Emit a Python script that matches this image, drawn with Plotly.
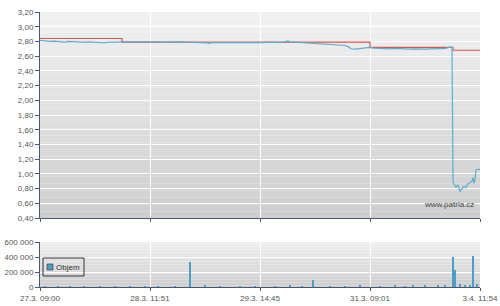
import plotly.graph_objects as go

# ---- data ----
tick_pos = [0, 110, 220, 330, 440]
tick_labels = ["27.3. 09:00", "28.3. 11:51", "29.3. 14:45", "31.3. 09:01", "3.4. 11:54"]

ref_x = [0, 82, 82, 330, 330, 413, 413, 440]
ref_y = [2.84, 2.84, 2.79, 2.79, 2.72, 2.72, 2.68, 2.68]

price_x = [0, 3, 6, 10, 14, 18, 22, 25, 28, 32, 36, 40, 44, 48, 52, 56, 60, 64, 68, 72, 76, 80, 82,
           84, 88, 92, 96, 100, 105, 110, 115, 120, 125, 130, 135, 140, 145, 150, 155, 160, 165, 168, 169, 171,
           175, 180, 185, 190, 195, 200, 205, 210, 215, 220, 225, 230, 235, 240, 245, 247, 248, 250, 255,
           260, 265, 270, 275, 280, 285, 290, 295, 300, 305, 308, 311, 315, 318, 322, 326, 330,
           334, 338, 342, 346, 350, 354, 358, 362, 366, 370, 374, 378, 382, 386, 390, 394, 398, 402, 406, 409, 411, 412,
           413, 414, 416, 418, 419, 420, 422, 424, 426, 428, 430, 432, 433, 434, 435, 436, 438, 440]
price_y = [2.815, 2.81, 2.805, 2.80, 2.805, 2.80, 2.795, 2.79, 2.80, 2.795, 2.80, 2.795, 2.79, 2.795, 2.79, 2.795, 2.79, 2.785, 2.79, 2.785, 2.79, 2.795, 2.795,
           2.805, 2.80, 2.80, 2.795, 2.80, 2.80, 2.795, 2.80, 2.795, 2.79, 2.795, 2.79, 2.795, 2.79, 2.79, 2.785, 2.79, 2.785, 2.78, 2.77, 2.785,
           2.785, 2.79, 2.785, 2.785, 2.79, 2.785, 2.785, 2.79, 2.785, 2.785, 2.79, 2.785, 2.79, 2.785, 2.79, 2.80, 2.81, 2.79, 2.79,
           2.785, 2.785, 2.78, 2.775, 2.77, 2.765, 2.76, 2.755, 2.75, 2.745, 2.73, 2.70, 2.695, 2.70, 2.71, 2.715, 2.72,
           2.71, 2.705, 2.71, 2.705, 2.70, 2.705, 2.70, 2.705, 2.70, 2.695, 2.70, 2.695, 2.70, 2.695, 2.70, 2.70, 2.705, 2.70, 2.705, 2.72, 2.725, 2.715,
           0.89, 0.86, 0.82, 0.85, 0.78, 0.76, 0.80, 0.83, 0.81, 0.87, 0.88, 0.90, 0.95, 0.87, 0.93, 1.05, 1.06, 1.06]

vol_x = [5, 18, 30, 44, 60, 75, 90, 105, 118, 135, 150, 165, 180, 200, 215, 235, 250, 262, 273, 290, 305,
         320, 340, 355, 365, 373, 385, 398, 405, 413, 415, 420, 425, 430, 433, 437]
vol_y = [6000, 4000, 8000, 5000, 9000, 6000, 12000, 7000, 10000, 8000, 340000, 15000, 9000, 12000, 8000, 10000, 14000, 9000, 95000, 10000, 12000,
         15000, 10000, 18000, 12000, 30000, 16000, 14000, 20000, 400000, 230000, 40000, 25000, 30000, 420000, 35000]

price_ticks = [0.4, 0.6, 0.8, 1.0, 1.2, 1.4, 1.6, 1.8, 2.0, 2.2, 2.4, 2.6, 2.8, 3.0, 3.2]
price_tick_text = ["0,40", "0,60", "0,80", "1,00", "1,20", "1,40", "1,60", "1,80", "2,00", "2,20", "2,40", "2,60", "2,80", "3,00", "3,20"]
vol_ticks = [0, 200000, 400000, 600000]
vol_tick_text = ["0", "200 000", "400 000", "600 000"]
legend_label = "Objem"
watermark = "www.patria.cz"

# ---- figure ----
W, H = 500, 306
def py(p):
    return (H - p) / H
def px(p):
    return p / W

vol_color = "#4a9fc8"

fig = go.Figure()
fig.add_trace(go.Scatter(x=ref_x, y=ref_y, mode="lines", line=dict(color="#d9534f", width=1.2),
                         showlegend=False, xaxis="x", yaxis="y", hoverinfo="skip"))
fig.add_trace(go.Scatter(x=price_x, y=price_y, mode="lines", line=dict(color="#5aaed0", width=1.2),
                         showlegend=False, xaxis="x", yaxis="y"))
fig.add_trace(go.Bar(x=vol_x, y=vol_y, width=1.2, marker=dict(color=vol_color, line=dict(width=0)),
                     name=legend_label, showlegend=False, xaxis="x2", yaxis="y2"))

# gradient background shapes
shapes = []
N = 30
for ax_x, ax_y, top_c, bot_c in [("x", "y", (240, 240, 240), (206, 206, 206)),
                                   ("x2", "y2", (238, 238, 238), (205, 205, 205))]:
    for i in range(N):
        t = i / (N - 1)
        c = tuple(int(round(top_c[k] + (bot_c[k] - top_c[k]) * t)) for k in range(3))
        shapes.append(dict(type="rect", xref=f"{ax_x} domain", yref=f"{ax_y} domain",
                           x0=0, x1=1, y0=1 - (i + 1) / N, y1=1 - i / N,
                           fillcolor=f"rgb{c}", line=dict(width=0), layer="below"))

# legend box (drawn manually to match compact size)
shapes.append(dict(type="rect", xref="paper", yref="paper", x0=px(43), x1=px(84), y0=py(276), y1=py(258),
                   fillcolor="rgba(0,0,0,0)", line=dict(color="#333333", width=1), layer="above"))
shapes.append(dict(type="rect", xref="paper", yref="paper", x0=px(47), x1=px(53), y0=py(270), y1=py(264),
                   fillcolor=vol_color, line=dict(color="#333333", width=0.6), layer="above"))

axis_font = dict(family="Liberation Sans, Arial, sans-serif", size=8, color="#555555")
axis_line = "#4b5670"

fig.update_layout(
    width=W, height=H,
    margin=dict(l=0, r=0, t=0, b=0, autoexpand=False),
    paper_bgcolor="white", plot_bgcolor="rgba(0,0,0,0)",
    shapes=shapes,
    bargap=0,
    showlegend=False,
    xaxis=dict(domain=[px(40), px(480)], range=[0, 440], tickvals=tick_pos, ticktext=[""] * 5,
               showgrid=True, gridcolor="white", gridwidth=1, zeroline=False, automargin=False,
               showline=True, linecolor=axis_line, linewidth=1, ticks="outside", ticklen=3,
               tickcolor=axis_line, anchor="y", fixedrange=True),
    yaxis=dict(domain=[py(218), py(12)], range=[0.4, 3.2], tickvals=price_ticks, ticktext=price_tick_text,
               showgrid=True, gridcolor="white", gridwidth=1, zeroline=False, automargin=False,
               showline=True, linecolor=axis_line, linewidth=1, ticks="outside", ticklen=4,
               tickcolor=axis_line, tickfont=axis_font, anchor="x"),
    xaxis2=dict(domain=[px(40), px(480)], range=[0, 440], tickvals=tick_pos, ticktext=tick_labels,
                showgrid=True, gridcolor="white", gridwidth=1, zeroline=False, automargin=False,
                showline=True, linecolor=axis_line, linewidth=1, ticks="outside", ticklen=3,
                tickcolor=axis_line, tickfont=axis_font, anchor="y2"),
    yaxis2=dict(domain=[py(287), py(242)], range=[0, 600000], tickvals=vol_ticks, ticktext=vol_tick_text,
                showgrid=True, gridcolor="white", gridwidth=1, zeroline=False, automargin=False,
                showline=True, linecolor=axis_line, linewidth=1, ticks="outside", ticklen=4,
                tickcolor=axis_line, tickfont=axis_font, anchor="x2"),
    annotations=[
        dict(text=watermark, x=px(476), y=py(204), xref="paper", yref="paper",
             xanchor="right", yanchor="middle", showarrow=False,
             font=dict(family="Liberation Sans, Arial, sans-serif", size=8, color="#444444")),
        dict(text=legend_label, x=px(54), y=py(267), xref="paper", yref="paper",
             xanchor="left", yanchor="middle", showarrow=False,
             font=dict(family="Liberation Sans, Arial, sans-serif", size=8, color="#333333")),
    ],
)

fig.write_html("out.html")
